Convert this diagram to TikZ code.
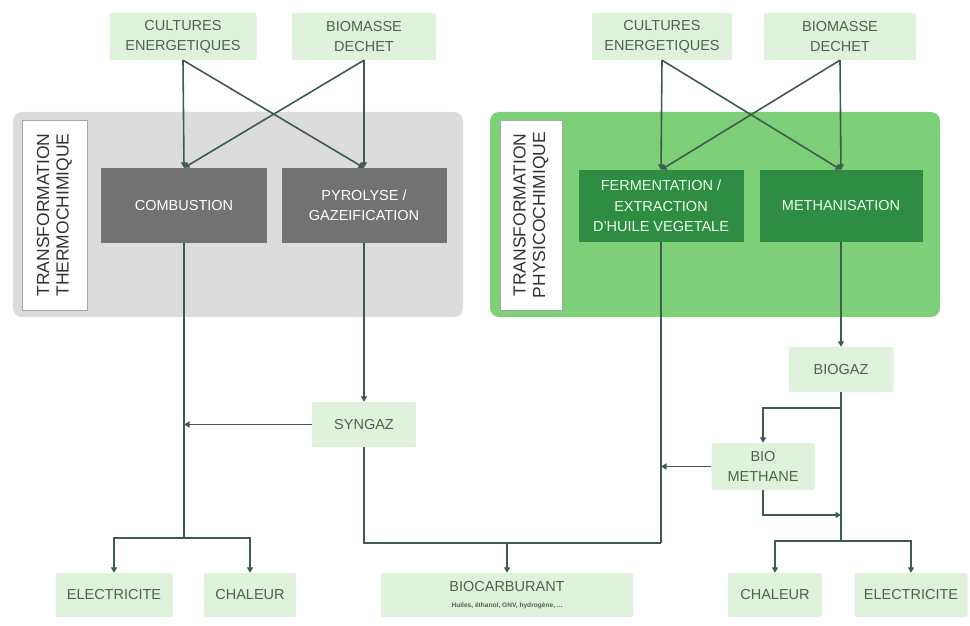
\documentclass[tikz,border=0pt]{standalone}
\usepackage{fontspec}
\setmainfont{Liberation Sans}
\usetikzlibrary{arrows.meta,calc}
\definecolor{lightbox}{HTML}{E0F2DC}
\definecolor{boxtext}{HTML}{4A644E}
\definecolor{grayzone}{HTML}{DCDCDC}
\definecolor{greenzone}{HTML}{7DCF78}
\definecolor{darkgray}{HTML}{727272}
\definecolor{darkgreen}{HTML}{2F8C43}
\definecolor{linec}{HTML}{3D5C4C}
\begin{document}
\begin{tikzpicture}[x=1pt,y=-1pt,
  every node/.style={inner sep=0pt, align=center},
  srcbox/.style={fill=lightbox, text=boxtext, font=\fontsize{14.5}{20}\selectfont, rounded corners=2pt},
  procgray/.style={fill=darkgray, text=white, font=\fontsize{14.5}{20.5}\selectfont},
  procgreen/.style={fill=darkgreen, text=white!92!green, font=\fontsize{14.5}{20.5}\selectfont},
  zonelabel/.style={fill=white, draw=gray!70, line width=0.8pt, text=gray!40!black, font=\fontsize{17.5}{19.5}\selectfont},
  conn/.style={draw=linec, line width=1.6pt},
  arr/.style={conn, -{Triangle[length=5.5pt,width=6pt]}}
]
\useasboundingbox (0,0) rectangle (970,626);
% zones
\node[fill=grayzone, rounded corners=9pt, minimum width=450pt, minimum height=205pt] (zone1) at (238,214.5) {};
\node[fill=greenzone, rounded corners=9pt, minimum width=450pt, minimum height=205pt] (zone2) at (715,214.5) {};
\node[zonelabel, minimum width=190pt, minimum height=65pt, rotate=90] (lab1) at (54.5,215) {TRANSFORMATION\\THERMOCHIMIQUE};
\node[zonelabel, minimum width=190pt, minimum height=62pt, rotate=90] (lab2) at (531,215) {TRANSFORMATION\\PHYSICOCHIMIQUE};
% sources
\node[srcbox, minimum width=147pt, minimum height=47pt] (cul1) at (183,36.5) {CULTURES\\ENERGETIQUES};
\node[srcbox, minimum width=144pt, minimum height=47pt] (bio1) at (364,36.5) {BIOMASSE\\DECHET};
\node[srcbox, minimum width=140pt, minimum height=47pt] (cul2) at (662,36.5) {CULTURES\\ENERGETIQUES};
\node[srcbox, minimum width=152pt, minimum height=47pt] (bio2) at (840,36.5) {BIOMASSE\\DECHET};
% processes
\node[procgray, minimum width=166pt, minimum height=75pt] (comb) at (184,205.5) {COMBUSTION};
\node[procgray, minimum width=165pt, minimum height=75pt] (pyro) at (364,205.5) {PYROLYSE /\\GAZEIFICATION};
\node[procgreen, minimum width=165pt, minimum height=72pt] (ferm) at (661,206) {FERMENTATION /\\EXTRACTION\\D'HUILE VEGETALE};
\node[procgreen, minimum width=163pt, minimum height=72pt] (meth) at (841,206) {METHANISATION};
% intermediates
\node[srcbox, minimum width=104pt, minimum height=45pt] (syn) at (364,424.5) {SYNGAZ};
\node[srcbox, minimum width=105pt, minimum height=45pt] (biogaz) at (841,369.5) {BIOGAZ};
\node[srcbox, minimum width=103pt, minimum height=47pt] (biometh) at (763,466.5) {BIO\\METHANE};
% outputs
\node[srcbox, minimum width=117pt, minimum height=44pt] (elec1) at (114,595) {ELECTRICITE};
\node[srcbox, minimum width=92pt, minimum height=44pt] (chal1) at (250,595) {CHALEUR};
\node[srcbox, minimum width=252pt, minimum height=44pt] (biocarb) at (507,595) {BIOCARBURANT\\[-4pt]{\fontsize{6.6}{8}\selectfont\bfseries Huiles, éthanol, GNV, hydrogène, ...}};
\node[srcbox, minimum width=94pt, minimum height=44pt] (chal2) at (775,595) {CHALEUR};
\node[srcbox, minimum width=113pt, minimum height=44pt] (elec2) at (911,595) {ELECTRICITE};
% junctions
\coordinate (j1) at (184,538);
\coordinate (j2) at (661,543);
\coordinate (j3) at (841,541);
\coordinate (b1) at (841,408);
\coordinate (b2) at (841,515);
% top crossings
\draw[arr] (cul1.south) -- (comb.north);
\draw[arr] (cul1.south) -- (pyro.north);
\draw[arr] (bio1.south) -- (comb.north);
\draw[arr] (bio1.south) -- (pyro.north);
\draw[arr] (cul2.south) -- (ferm.north);
\draw[arr] (cul2.south) -- (meth.north);
\draw[arr] (bio2.south) -- (ferm.north);
\draw[arr] (bio2.south) -- (meth.north);
% thermochemical outputs
\draw[conn] (comb.south) -- (j1);
\draw[arr] (j1) -| (elec1.north);
\draw[arr] (j1) -| (chal1.north);
\draw[arr] (pyro.south) -- (syn.north);
\draw[arr] (syn.west) -- (comb.south |- syn.west);
\draw[conn] (syn.south) |- (j2);
% physicochemical outputs
\draw[conn] (ferm.south) -- (j2);
\draw[arr] (biocarb.north |- j2) -- (biocarb.north);
\draw[arr] (meth.south) -- (biogaz.north);
\draw[conn] (biogaz.south) -- (j3);
\draw[arr] (b1) -| (biometh.north);
\draw[arr] (biometh.west) -- (ferm.south |- biometh.west);
\draw[arr] (biometh.south) |- (b2);
\draw[arr] (j3) -| (chal2.north);
\draw[arr] (j3) -| (elec2.north);
\end{tikzpicture}
\end{document}
